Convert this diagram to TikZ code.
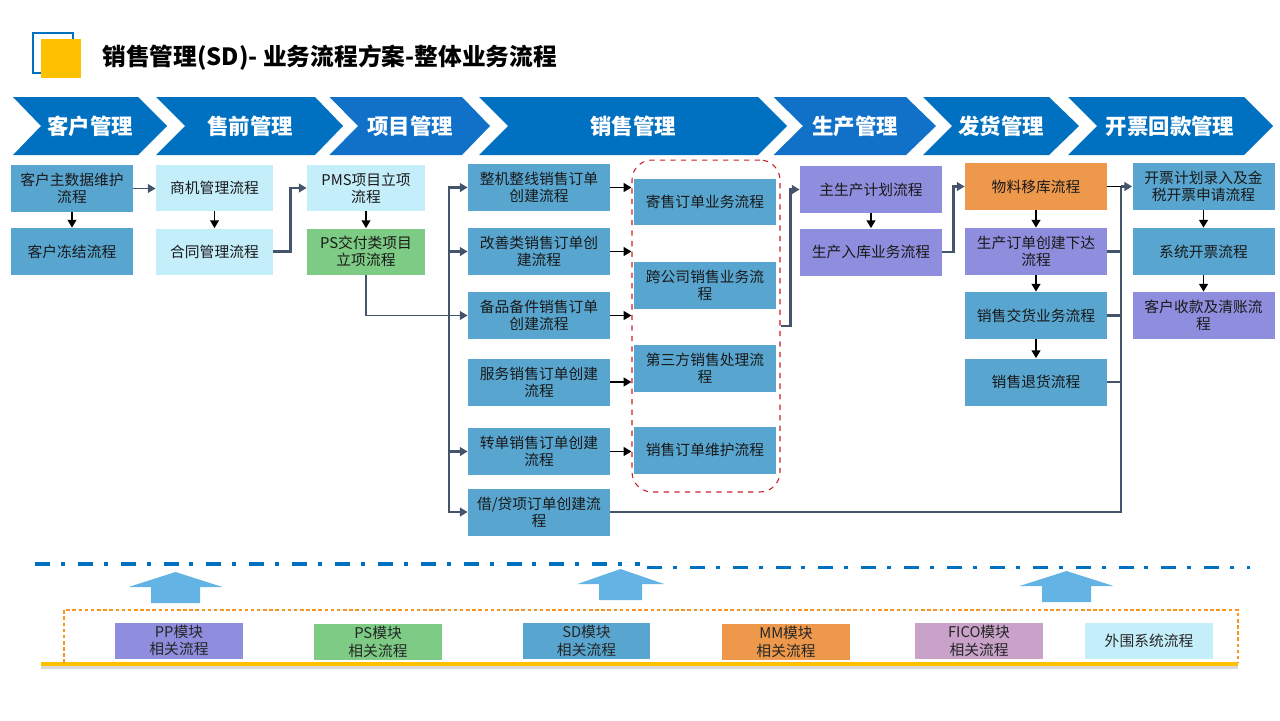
\documentclass[tikz,border=0pt]{standalone}
\usepackage{fontspec}
\setmainfont{Noto Sans CJK SC}
\usetikzlibrary{arrows.meta}
\definecolor{chevblue}{RGB}{0,112,192}
\definecolor{chevlight}{RGB}{17,113,200}
\definecolor{bxblue}{RGB}{88,166,208}
\definecolor{bxcyan}{RGB}{197,238,251}
\definecolor{bxgreen}{RGB}{125,203,132}
\definecolor{bxpurple}{RGB}{143,142,222}
\definecolor{bxorange}{RGB}{237,152,75}
\definecolor{bxlilac}{RGB}{200,162,200}
\definecolor{lnkgray}{RGB}{68,84,106}
\definecolor{uparrow}{RGB}{99,180,228}
\definecolor{grpred}{RGB}{200,30,40}
\definecolor{legorange}{RGB}{247,150,30}
\definecolor{gold}{RGB}{255,192,0}

\begin{document}
\begin{tikzpicture}[x=0.02cm,y=-0.02cm,
  bx/.style={minimum width=2.84cm,minimum height=0.94cm,inner sep=0pt,align=center,
    text=black!90,font=\fontsize{8.4}{9.8}\selectfont},
  chevtxt/.style={text=white,font=\fontsize{12.2}{14}\selectfont\bfseries},
  lnk/.style={draw=lnkgray,line width=1.4pt},
  lnkarr/.style={lnk,-{Triangle[length=4.5pt,width=5pt]}},
  blk/.style={draw=black,line width=1.1pt,-{Triangle[length=4.5pt,width=5pt]}},
  modbox/.style={minimum width=2.55cm,minimum height=0.72cm,inner sep=0pt,align=center,
    text=black!85,font=\fontsize{8.4}{10}\selectfont}]
\useasboundingbox (0,0) rectangle (1280,720);

% title
\draw[chevblue,line width=0.8pt] (33,33) rectangle (73,73);
\fill[gold] (41,39) rectangle (81,78);
\node[anchor=west,inner sep=0pt,font=\fontsize{13.5}{16}\selectfont\bfseries] (title) at (102,58) {销售管理(SD)- 业务流程方案-整体业务流程};

% chevrons
\fill[chevblue] (13,97)--(138,97)--(167,126)--(138,155)--(13,155)--(41,126)--cycle;
\fill[chevblue] (156,97)--(315,97)--(343,126)--(315,155)--(156,155)--(185,126)--cycle;
\fill[chevlight] (329.5,97)--(462,97)--(490,126)--(462,155)--(329.5,155)--(358,126)--cycle;
\fill[chevblue] (479,97)--(758,97)--(787,126)--(758,155)--(479,155)--(508,126)--cycle;
\fill[chevlight] (773.5,97)--(906,97)--(936,126)--(906,155)--(773.5,155)--(803,126)--cycle;
\fill[chevblue] (923,97)--(1049,97)--(1079,126)--(1049,155)--(923,155)--(952,126)--cycle;
\fill[chevblue] (1068,97)--(1244,97)--(1273,126)--(1244,155)--(1068,155)--(1097,126)--cycle;
\node[chevtxt] (hkh) at (90,126) {客户管理};
\node[chevtxt] (hsq) at (250,126) {售前管理};
\node[chevtxt] (hxm) at (410,126) {项目管理};
\node[chevtxt] (hxs) at (633,126) {销售管理};
\node[chevtxt] (hsc) at (855,126) {生产管理};
\node[chevtxt] (hfh) at (1001,126) {发货管理};
\node[chevtxt] (hkp) at (1170,126) {开票回款管理};

% customer / presales / project
\node[bx,fill=bxblue,minimum width=2.44cm] (kzs) at (72,188.5) {客户主数据维护\\流程};
\node[bx,fill=bxblue,minimum width=2.44cm] (kdj) at (72,251.5) {客户冻结流程};
\node[bx,fill=bxcyan,minimum width=2.34cm,minimum height=0.92cm] (sj) at (214.5,188) {商机管理流程};
\node[bx,fill=bxcyan,minimum width=2.34cm,minimum height=0.92cm] (ht) at (214.5,251.5) {合同管理流程};
\node[bx,fill=bxcyan,minimum width=2.36cm,minimum height=0.92cm] (pms) at (366,188) {PMS项目立项\\流程};
\node[bx,fill=bxgreen,minimum width=2.36cm,minimum height=0.92cm] (ps) at (366,251.5) {PS交付类项目\\立项流程};

% sales orders
\node[bx,fill=bxblue] (zj) at (539,187.5) {整机整线销售订单\\创建流程};
\node[bx,fill=bxblue] (gs) at (539,251.5) {改善类销售订单创\\建流程};
\node[bx,fill=bxblue] (bp) at (539,315.5) {备品备件销售订单\\创建流程};
\node[bx,fill=bxblue] (fw) at (539,382) {服务销售订单创建\\流程};
\node[bx,fill=bxblue] (zd) at (539,451.5) {转单销售订单创建\\流程};
\node[bx,fill=bxblue] (jd) at (539,512) {借/贷项订单创建流\\程};

\node[draw=grpred,dashed,line width=0.6pt,rounded corners=0.4cm,minimum width=2.96cm,minimum height=6.64cm] (grp) at (706,326) {};
\node[bx,fill=bxblue] (js) at (705,202) {寄售订单业务流程};
\node[bx,fill=bxblue] (kgs) at (705,285) {跨公司销售业务流\\程};
\node[bx,fill=bxblue] (dsf) at (705,368) {第三方销售处理流\\程};
\node[bx,fill=bxblue] (wh) at (705,450) {销售订单维护流程};

% production / delivery / billing
\node[bx,fill=bxpurple] (zsc) at (871,189.5) {主生产计划流程};
\node[bx,fill=bxpurple] (scrk) at (871,252) {生产入库业务流程};
\node[bx,fill=bxorange] (wl) at (1036,186.5) {物料移库流程};
\node[bx,fill=bxpurple] (scd) at (1036,251.5) {生产订单创建下达\\流程};
\node[bx,fill=bxblue] (jh) at (1036,315.5) {销售交货业务流程};
\node[bx,fill=bxblue] (th) at (1036,382) {销售退货流程};
\node[bx,fill=bxblue] (kp) at (1203.5,186.5) {开票计划录入及金\\税开票申请流程};
\node[bx,fill=bxblue] (xt) at (1203.5,251.5) {系统开票流程};
\node[bx,fill=bxpurple] (sk) at (1203.5,315.5) {客户收款及清账流\\程};

% connectors
\draw[blk] (kzs.south) -- (kdj.north);
\draw[lnkarr,line width=1pt] (kzs.east) -- (kzs.east -| sj.west);
\draw[blk] (sj.south) -- (ht.north);
\draw[lnkarr] (ht.east) -- ++(17,0) |- (pms.west);
\draw[blk] (pms.south) -- (ps.north);
\draw[lnkarr,line width=1.1pt] (ps.south) |- (bp.west);

\coordinate (lbus) at (449,0);
\draw[lnk,{Triangle[length=4.5pt,width=5pt]}-{Triangle[length=4.5pt,width=5pt]}] (zj.west) -| (lbus |- jd.west) -- (jd.west);
\draw[lnkarr] (lbus |- gs.west) -- (gs.west);
\draw[lnkarr] (lbus |- zd.west) -- (zd.west);

\draw[blk] (zj.east) -- (zj.east -| grp.west);
\draw[blk] (gs.east) -- (gs.east -| grp.west);
\draw[blk] (bp.east) -- (bp.east -| grp.west);
\draw[blk] (fw.east) -- (fw.east -| grp.west);
\draw[blk] (zd.east) -- (zd.east -| grp.west);

\draw[lnkarr] (grp.east) -- ++(10,0) |- (zsc.west);
\draw[blk] (zsc.south) -- (scrk.north);
\draw[lnkarr] (scrk.east) -- ++(11,0) |- (wl.west);
\draw[blk] (wl.south) -- (scd.north);
\draw[blk] (scd.south) -- (jh.north);
\draw[blk] (jh.south) -- (th.north);

\coordinate (rbus) at (1121,0);
\draw[draw=black,line width=1.1pt] (wl.east) -- (wl.east -| rbus);
\draw[lnkarr] (wl.east -| rbus) -- (kp.west);
\draw[lnk] (jd.east) -| (rbus |- wl.east);
\draw[lnk] (scd.east) -- (scd.east -| rbus);
\draw[lnk] (jh.east) -- (jh.east -| rbus);
\draw[lnk] (th.east) -- (th.east -| rbus);
\draw[blk] (kp.south) -- (xt.north);
\draw[blk] (xt.south) -- (sk.north);

% module legend
\draw[chevblue,line width=2pt,dash pattern=on 8.5pt off 6.2pt on 2.3pt off 7.4pt] (35,564) -- (640,564);
\draw[chevblue,line width=2pt,dash pattern=on 8.5pt off 6.2pt on 2.3pt off 7.4pt] (647,567.5) -- (1250,567.5);
\fill[uparrow] (151,603)--(151,587)--(128.5,587)--(175.5,572)--(222.5,587)--(200,587)--(200,603)--cycle;
\fill[uparrow] (599,600)--(599,584)--(577.5,584)--(620.5,569)--(664,584)--(642,584)--(642,600)--cycle;
\fill[uparrow] (1042,602)--(1042,586)--(1019.6,586)--(1066.5,571)--(1113.5,586)--(1091,586)--(1091,602)--cycle;
\draw[black!15,line width=2pt] (41,667) -- (1238,667);
\draw[gold,line width=1.8pt] (41,664) -- (1238,664);
\draw[legorange,line width=0.6pt,dash pattern=on 2pt off 1.5pt] (64,663) -- (64,610) -- (1238,610) -- (1238,663);

\node[modbox,fill=bxpurple] (mpp) at (179,640.5) {PP模块\\相关流程};
\node[modbox,fill=bxgreen] (mps) at (378,642) {PS模块\\相关流程};
\node[modbox,fill=bxblue] (msd) at (586.5,641) {SD模块\\相关流程};
\node[modbox,fill=bxorange] (mmm) at (786,642) {MM模块\\相关流程};
\node[modbox,fill=bxlilac] (mfi) at (979,641) {FICO模块\\相关流程};
\node[modbox,fill=bxcyan] (mww) at (1149,641) {外围系统流程};
\end{tikzpicture}
\end{document}
